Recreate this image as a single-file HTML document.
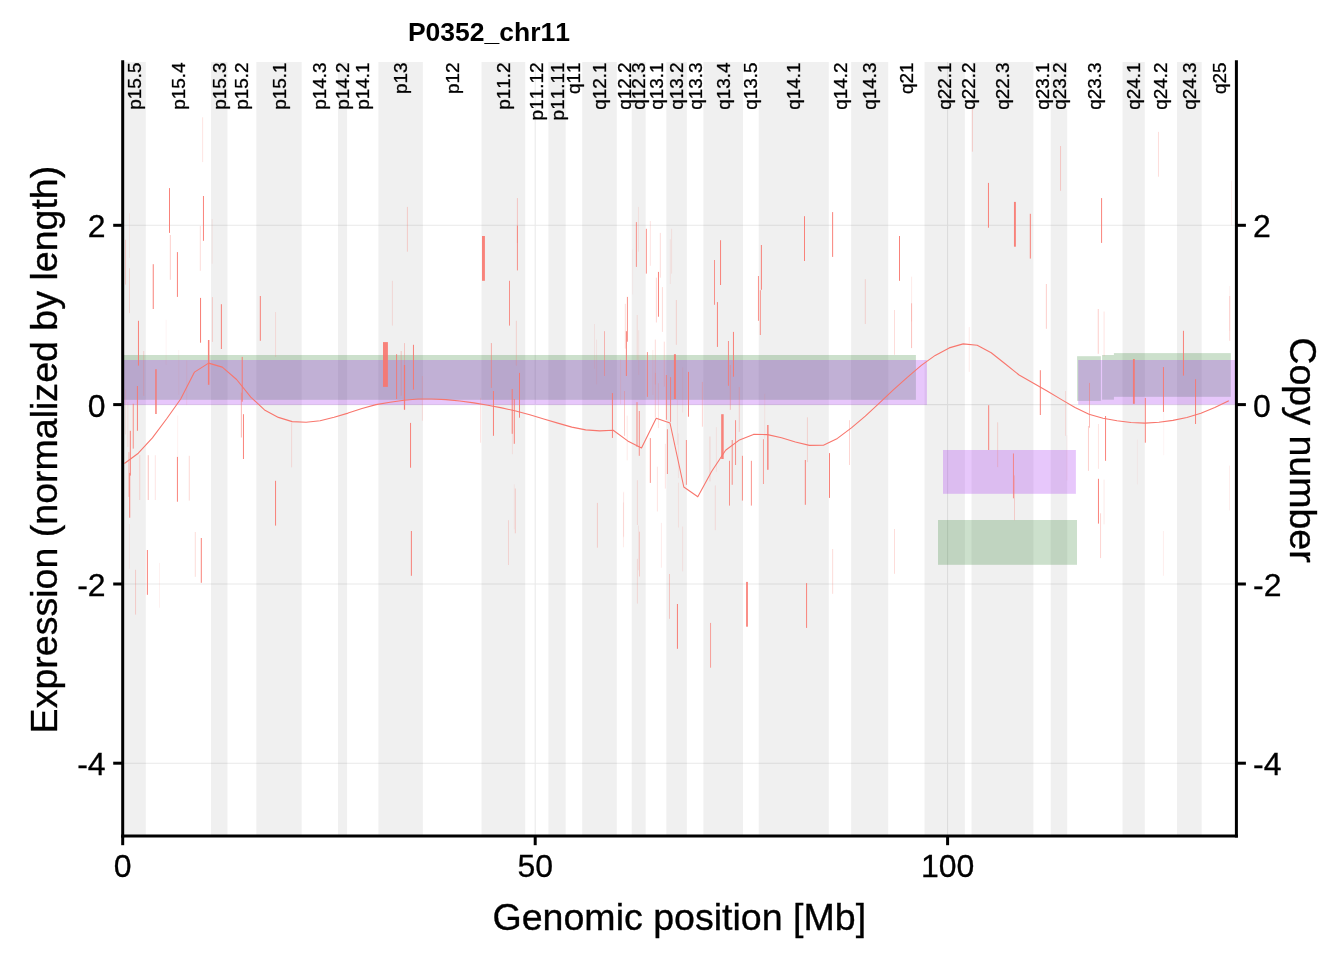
<!DOCTYPE html>
<html><head><meta charset="utf-8"><title>P0352_chr11</title>
<style>
html,body{margin:0;padding:0;background:#fff;}
body{width:1344px;height:960px;overflow:hidden;}
svg{display:block;font-family:"Liberation Sans",sans-serif;font-kerning:none;will-change:transform;}
.bl{font-size:18.97px;fill:#000;stroke:#000;stroke-width:0.3px;}
.tk{font-size:32px;fill:#000;stroke:#000;stroke-width:0.3px;}
.at{font-size:37.55px;fill:#000;stroke:#000;stroke-width:0.35px;}
</style></head><body>
<svg width="1344" height="960" viewBox="0 0 1344 960">
<rect width="1344" height="960" fill="#fff"/>

<g stroke="#e9e9e9" stroke-width="1.05">
<line x1="122.7" x2="1236.4" y1="225.3" y2="225.3"/>
<line x1="122.7" x2="1236.4" y1="404.6" y2="404.6"/>
<line x1="122.7" x2="1236.4" y1="584.0" y2="584.0"/>
<line x1="122.7" x2="1236.4" y1="763.2" y2="763.2"/>
<line x1="535.2" x2="535.2" y1="62.0" y2="835.9"/>
<line x1="947.6" x2="947.6" y1="62.0" y2="835.9"/>
</g>
<g fill="#000" fill-opacity="0.06">
<rect x="122.7" y="62.0" width="23.1" height="773.9"/>
<rect x="211.0" y="62.0" width="16.5" height="773.9"/>
<rect x="256.3" y="62.0" width="45.4" height="773.9"/>
<rect x="338.0" y="62.0" width="9.1" height="773.9"/>
<rect x="378.4" y="62.0" width="44.5" height="773.9"/>
<rect x="481.5" y="62.0" width="43.7" height="773.9"/>
<rect x="548.4" y="62.0" width="17.3" height="773.9"/>
<rect x="582.2" y="62.0" width="34.6" height="773.9"/>
<rect x="631.7" y="62.0" width="14.0" height="773.9"/>
<rect x="666.3" y="62.0" width="20.6" height="773.9"/>
<rect x="703.4" y="62.0" width="39.6" height="773.9"/>
<rect x="758.7" y="62.0" width="70.1" height="773.9"/>
<rect x="851.1" y="62.0" width="37.1" height="773.9"/>
<rect x="924.5" y="62.0" width="40.4" height="773.9"/>
<rect x="971.5" y="62.0" width="61.9" height="773.9"/>
<rect x="1050.7" y="62.0" width="16.5" height="773.9"/>
<rect x="1122.5" y="62.0" width="22.3" height="773.9"/>
<rect x="1177.0" y="62.0" width="24.7" height="773.9"/>
</g>
<rect x="123.2" y="355.0" width="792.7" height="44.8" fill="#006400" fill-opacity="0.20"/>
<rect x="1077.1" y="356.2" width="23.8" height="44.7" fill="#006400" fill-opacity="0.20"/>
<rect x="1102.1" y="355.0" width="11.8" height="44.7" fill="#006400" fill-opacity="0.20"/>
<rect x="1113.9" y="353.1" width="116.9" height="43.7" fill="#006400" fill-opacity="0.20"/>
<rect x="938.0" y="520.0" width="139.0" height="44.8" fill="#006400" fill-opacity="0.20"/>
<rect x="123.2" y="360.0" width="803.7" height="44.8" fill="#a020f0" fill-opacity="0.25"/>
<rect x="1078.2" y="360.0" width="158.2" height="44.6" fill="#a020f0" fill-opacity="0.25"/>
<rect x="943.0" y="450.0" width="132.9" height="43.8" fill="#a020f0" fill-opacity="0.25"/>
<g fill="#f8766d">
<rect x="125.04" y="239.8" width="1.00" height="44.8" fill-opacity="0.30"/>
<rect x="125.04" y="389.6" width="1.00" height="44.8" fill-opacity="0.15"/>
<rect x="127.33" y="402.1" width="1.00" height="44.8" fill-opacity="0.15"/>
<rect x="128.38" y="452.1" width="1.00" height="44.8" fill-opacity="0.45"/>
<rect x="128.90" y="524.0" width="1.00" height="44.8" fill-opacity="0.10"/>
<rect x="129.00" y="213.1" width="1.00" height="44.8" fill-opacity="0.10"/>
<rect x="129.00" y="268.3" width="1.00" height="44.8" fill-opacity="0.25"/>
<rect x="129.21" y="472.9" width="1.00" height="44.8" fill-opacity="0.90"/>
<rect x="129.83" y="430.8" width="1.00" height="44.8" fill-opacity="0.90"/>
<rect x="132.75" y="403.8" width="1.00" height="44.8" fill-opacity="0.78"/>
<rect x="135.04" y="569.8" width="1.00" height="44.8" fill-opacity="0.30"/>
<rect x="136.92" y="386.0" width="1.00" height="44.8" fill-opacity="0.90"/>
<rect x="137.96" y="320.8" width="1.00" height="44.8" fill-opacity="0.90"/>
<rect x="139.21" y="455.2" width="1.00" height="44.8" fill-opacity="0.25"/>
<rect x="143.17" y="351.0" width="1.00" height="44.8" fill-opacity="0.25"/>
<rect x="146.90" y="550.0" width="1.00" height="44.8" fill-opacity="0.90"/>
<rect x="147.75" y="455.2" width="1.00" height="44.8" fill-opacity="0.45"/>
<rect x="152.75" y="264.2" width="1.00" height="44.8" fill-opacity="0.90"/>
<rect x="154.83" y="455.2" width="1.00" height="44.8" fill-opacity="0.18"/>
<rect x="155.21" y="369.2" width="1.50" height="44.8" fill-opacity="0.90"/>
<rect x="159.00" y="562.9" width="1.00" height="44.8" fill-opacity="0.10"/>
<rect x="165.67" y="319.8" width="1.00" height="44.8" fill-opacity="0.08"/>
<rect x="169.00" y="188.1" width="1.00" height="44.8" fill-opacity="0.90"/>
<rect x="169.83" y="235.0" width="1.00" height="44.8" fill-opacity="0.35"/>
<rect x="176.92" y="252.1" width="1.00" height="44.8" fill-opacity="0.90"/>
<rect x="176.92" y="456.9" width="1.00" height="44.8" fill-opacity="0.90"/>
<rect x="177.12" y="415.6" width="1.00" height="44.8" fill-opacity="0.10"/>
<rect x="178.17" y="350.0" width="1.00" height="44.8" fill-opacity="0.08"/>
<rect x="186.08" y="360.4" width="1.00" height="44.8" fill-opacity="0.10"/>
<rect x="188.79" y="455.8" width="1.00" height="44.8" fill-opacity="0.28"/>
<rect x="194.80" y="532.0" width="1.00" height="44.8" fill-opacity="0.25"/>
<rect x="199.83" y="226.0" width="1.00" height="44.8" fill-opacity="0.25"/>
<rect x="200.04" y="297.9" width="1.00" height="44.8" fill-opacity="0.95"/>
<rect x="200.80" y="538.0" width="1.00" height="44.8" fill-opacity="0.90"/>
<rect x="202.12" y="117.3" width="1.00" height="44.8" fill-opacity="0.20"/>
<rect x="202.96" y="196.0" width="1.00" height="44.8" fill-opacity="0.90"/>
<rect x="207.92" y="340.0" width="1.50" height="44.8" fill-opacity="0.90"/>
<rect x="211.71" y="219.0" width="1.00" height="44.8" fill-opacity="0.12"/>
<rect x="211.92" y="297.1" width="1.00" height="44.8" fill-opacity="0.30"/>
<rect x="220.88" y="304.2" width="1.00" height="44.8" fill-opacity="0.90"/>
<rect x="240.88" y="392.7" width="1.00" height="44.8" fill-opacity="0.50"/>
<rect x="241.71" y="356.9" width="1.00" height="44.8" fill-opacity="0.90"/>
<rect x="242.96" y="414.2" width="1.00" height="44.8" fill-opacity="0.90"/>
<rect x="259.83" y="296.0" width="1.00" height="44.8" fill-opacity="0.90"/>
<rect x="275.04" y="312.1" width="1.00" height="44.8" fill-opacity="0.20"/>
<rect x="275.04" y="480.8" width="1.00" height="44.8" fill-opacity="0.90"/>
<rect x="291.08" y="422.5" width="1.00" height="44.8" fill-opacity="0.20"/>
<rect x="383.00" y="342.1" width="4.90" height="44.8" fill-opacity="0.90"/>
<rect x="391.92" y="280.8" width="1.00" height="44.8" fill-opacity="0.20"/>
<rect x="396.08" y="354.2" width="1.00" height="44.8" fill-opacity="0.84"/>
<rect x="400.67" y="351.0" width="1.00" height="44.8" fill-opacity="0.35"/>
<rect x="404.00" y="343.1" width="1.00" height="44.8" fill-opacity="0.35"/>
<rect x="403.90" y="365.0" width="1.20" height="44.8" fill-opacity="0.95"/>
<rect x="406.92" y="206.9" width="1.00" height="44.8" fill-opacity="0.30"/>
<rect x="410.04" y="422.9" width="1.00" height="44.8" fill-opacity="0.90"/>
<rect x="410.88" y="531.0" width="1.00" height="44.8" fill-opacity="0.90"/>
<rect x="412.96" y="344.8" width="1.00" height="44.8" fill-opacity="0.90"/>
<rect x="421.92" y="376.0" width="1.00" height="44.8" fill-opacity="0.20"/>
<rect x="480.04" y="397.9" width="1.00" height="44.8" fill-opacity="0.20"/>
<rect x="482.01" y="236.0" width="2.90" height="44.8" fill-opacity="0.90"/>
<rect x="490.88" y="343.1" width="1.00" height="44.8" fill-opacity="0.55"/>
<rect x="492.96" y="391.0" width="1.00" height="44.8" fill-opacity="0.90"/>
<rect x="507.96" y="520.2" width="1.00" height="44.8" fill-opacity="0.25"/>
<rect x="509.00" y="280.8" width="1.00" height="44.8" fill-opacity="0.78"/>
<rect x="511.71" y="389.0" width="1.00" height="44.8" fill-opacity="0.90"/>
<rect x="511.92" y="409.4" width="1.00" height="44.8" fill-opacity="0.15"/>
<rect x="513.79" y="399.0" width="1.00" height="44.8" fill-opacity="0.90"/>
<rect x="513.79" y="484.4" width="1.00" height="44.8" fill-opacity="0.10"/>
<rect x="514.83" y="488.5" width="1.00" height="44.8" fill-opacity="0.30"/>
<rect x="515.88" y="320.8" width="1.00" height="44.8" fill-opacity="0.25"/>
<rect x="516.92" y="198.1" width="1.00" height="44.8" fill-opacity="0.35"/>
<rect x="516.92" y="225.6" width="1.00" height="44.8" fill-opacity="0.78"/>
<rect x="519.00" y="372.9" width="1.00" height="44.8" fill-opacity="0.90"/>
<rect x="594.00" y="324.0" width="1.00" height="44.8" fill-opacity="0.12"/>
<rect x="596.08" y="339.6" width="1.00" height="44.8" fill-opacity="0.12"/>
<rect x="596.92" y="502.9" width="1.00" height="44.8" fill-opacity="0.30"/>
<rect x="604.00" y="331.2" width="1.00" height="44.8" fill-opacity="0.50"/>
<rect x="611.92" y="393.1" width="1.00" height="44.8" fill-opacity="0.90"/>
<rect x="620.04" y="359.4" width="1.00" height="44.8" fill-opacity="0.15"/>
<rect x="622.96" y="492.5" width="1.00" height="44.8" fill-opacity="0.08"/>
<rect x="622.96" y="502.5" width="1.00" height="44.8" fill-opacity="0.15"/>
<rect x="623.17" y="491.7" width="1.00" height="44.8" fill-opacity="0.10"/>
<rect x="624.00" y="391.0" width="1.00" height="44.8" fill-opacity="0.35"/>
<rect x="624.83" y="303.8" width="1.00" height="44.8" fill-opacity="0.25"/>
<rect x="625.88" y="331.2" width="1.00" height="44.8" fill-opacity="0.90"/>
<rect x="626.71" y="415.6" width="1.00" height="44.8" fill-opacity="0.15"/>
<rect x="626.92" y="296.9" width="1.00" height="44.8" fill-opacity="0.78"/>
<rect x="632.12" y="249.6" width="1.00" height="44.8" fill-opacity="0.08"/>
<rect x="635.88" y="222.1" width="1.00" height="44.8" fill-opacity="0.78"/>
<rect x="636.50" y="402.1" width="1.00" height="44.8" fill-opacity="0.84"/>
<rect x="636.71" y="315.0" width="1.00" height="44.8" fill-opacity="0.20"/>
<rect x="636.92" y="480.2" width="1.00" height="44.8" fill-opacity="0.20"/>
<rect x="636.92" y="558.8" width="1.00" height="44.8" fill-opacity="0.20"/>
<rect x="637.96" y="206.9" width="1.00" height="44.8" fill-opacity="0.15"/>
<rect x="637.96" y="525.4" width="1.00" height="44.8" fill-opacity="0.12"/>
<rect x="638.17" y="330.2" width="1.00" height="44.8" fill-opacity="0.12"/>
<rect x="638.79" y="411.0" width="1.00" height="44.8" fill-opacity="0.78"/>
<rect x="639.00" y="531.7" width="1.00" height="44.8" fill-opacity="0.30"/>
<rect x="645.88" y="228.8" width="1.00" height="44.8" fill-opacity="0.78"/>
<rect x="646.92" y="352.1" width="1.00" height="44.8" fill-opacity="0.78"/>
<rect x="649.83" y="221.0" width="1.00" height="44.8" fill-opacity="0.20"/>
<rect x="649.83" y="438.1" width="1.00" height="44.8" fill-opacity="0.78"/>
<rect x="652.33" y="350.0" width="1.00" height="44.8" fill-opacity="0.15"/>
<rect x="654.83" y="339.6" width="1.00" height="44.8" fill-opacity="0.25"/>
<rect x="654.83" y="372.9" width="1.00" height="44.8" fill-opacity="0.30"/>
<rect x="655.88" y="277.7" width="1.00" height="44.8" fill-opacity="0.30"/>
<rect x="656.92" y="466.7" width="1.00" height="44.8" fill-opacity="0.20"/>
<rect x="657.96" y="271.9" width="1.00" height="44.8" fill-opacity="0.90"/>
<rect x="657.96" y="383.3" width="1.00" height="44.8" fill-opacity="0.20"/>
<rect x="659.83" y="232.9" width="1.00" height="44.8" fill-opacity="0.25"/>
<rect x="660.88" y="522.9" width="1.00" height="44.8" fill-opacity="0.15"/>
<rect x="661.92" y="287.1" width="1.00" height="44.8" fill-opacity="0.25"/>
<rect x="663.79" y="341.7" width="1.00" height="44.8" fill-opacity="0.25"/>
<rect x="664.83" y="443.8" width="1.00" height="44.8" fill-opacity="0.20"/>
<rect x="665.88" y="375.0" width="1.00" height="44.8" fill-opacity="0.78"/>
<rect x="666.92" y="429.2" width="1.00" height="44.8" fill-opacity="0.78"/>
<rect x="669.00" y="574.0" width="1.00" height="44.8" fill-opacity="0.35"/>
<rect x="669.83" y="239.2" width="1.00" height="44.8" fill-opacity="0.12"/>
<rect x="670.04" y="377.1" width="1.00" height="44.8" fill-opacity="0.78"/>
<rect x="671.08" y="228.8" width="1.00" height="44.8" fill-opacity="0.15"/>
<rect x="673.92" y="354.2" width="2.00" height="44.8" fill-opacity="0.90"/>
<rect x="675.88" y="300.0" width="1.00" height="44.8" fill-opacity="0.25"/>
<rect x="676.92" y="400.0" width="1.00" height="44.8" fill-opacity="0.12"/>
<rect x="676.92" y="604.0" width="1.00" height="44.8" fill-opacity="0.95"/>
<rect x="677.96" y="433.3" width="1.00" height="44.8" fill-opacity="0.12"/>
<rect x="677.96" y="482.7" width="1.00" height="44.8" fill-opacity="0.15"/>
<rect x="682.12" y="367.7" width="1.00" height="44.8" fill-opacity="0.12"/>
<rect x="682.12" y="526.5" width="1.00" height="44.8" fill-opacity="0.15"/>
<rect x="685.88" y="440.0" width="1.00" height="44.8" fill-opacity="0.78"/>
<rect x="687.96" y="371.9" width="1.00" height="44.8" fill-opacity="0.90"/>
<rect x="701.92" y="381.9" width="1.00" height="44.8" fill-opacity="0.30"/>
<rect x="709.42" y="436.5" width="1.00" height="44.8" fill-opacity="0.25"/>
<rect x="710.04" y="622.9" width="1.00" height="44.8" fill-opacity="0.67"/>
<rect x="714.00" y="260.0" width="1.00" height="44.8" fill-opacity="0.78"/>
<rect x="714.83" y="485.4" width="1.00" height="44.8" fill-opacity="0.18"/>
<rect x="715.88" y="427.1" width="1.00" height="44.8" fill-opacity="0.12"/>
<rect x="716.92" y="302.1" width="1.00" height="44.8" fill-opacity="0.90"/>
<rect x="720.04" y="240.2" width="1.00" height="44.8" fill-opacity="0.90"/>
<rect x="721.17" y="414.2" width="2.50" height="44.8" fill-opacity="0.90"/>
<rect x="727.96" y="341.0" width="1.00" height="44.8" fill-opacity="0.78"/>
<rect x="729.00" y="460.8" width="1.00" height="44.8" fill-opacity="0.78"/>
<rect x="729.83" y="365.0" width="1.00" height="44.8" fill-opacity="0.40"/>
<rect x="731.71" y="440.0" width="1.00" height="44.8" fill-opacity="0.78"/>
<rect x="732.96" y="331.9" width="1.00" height="44.8" fill-opacity="0.90"/>
<rect x="735.04" y="420.2" width="1.00" height="44.8" fill-opacity="0.78"/>
<rect x="738.79" y="387.1" width="1.00" height="44.8" fill-opacity="0.30"/>
<rect x="741.92" y="455.8" width="1.00" height="44.8" fill-opacity="0.78"/>
<rect x="746.10" y="581.9" width="1.80" height="44.8" fill-opacity="0.90"/>
<rect x="750.88" y="460.8" width="1.00" height="44.8" fill-opacity="0.78"/>
<rect x="757.96" y="276.0" width="1.00" height="44.8" fill-opacity="0.78"/>
<rect x="759.83" y="290.2" width="1.00" height="44.8" fill-opacity="0.78"/>
<rect x="760.88" y="245.0" width="1.00" height="44.8" fill-opacity="0.90"/>
<rect x="762.96" y="439.2" width="1.00" height="44.8" fill-opacity="0.67"/>
<rect x="764.21" y="393.8" width="1.00" height="44.8" fill-opacity="0.12"/>
<rect x="767.08" y="425.0" width="1.50" height="44.8" fill-opacity="0.85"/>
<rect x="804.00" y="216.2" width="1.00" height="44.8" fill-opacity="0.90"/>
<rect x="804.83" y="460.0" width="1.00" height="44.8" fill-opacity="0.90"/>
<rect x="806.08" y="583.1" width="1.00" height="44.8" fill-opacity="0.90"/>
<rect x="806.92" y="417.3" width="1.00" height="44.8" fill-opacity="0.25"/>
<rect x="829.00" y="453.1" width="1.00" height="44.8" fill-opacity="0.90"/>
<rect x="832.12" y="212.1" width="1.00" height="44.8" fill-opacity="0.90"/>
<rect x="832.12" y="549.0" width="1.00" height="44.8" fill-opacity="0.25"/>
<rect x="849.00" y="420.2" width="1.00" height="44.8" fill-opacity="0.30"/>
<rect x="864.83" y="279.2" width="1.00" height="44.8" fill-opacity="0.25"/>
<rect x="894.00" y="310.0" width="1.00" height="44.8" fill-opacity="0.25"/>
<rect x="894.00" y="529.0" width="1.00" height="44.8" fill-opacity="0.25"/>
<rect x="899.00" y="236.0" width="1.00" height="44.8" fill-opacity="0.90"/>
<rect x="911.08" y="276.7" width="1.00" height="44.8" fill-opacity="0.15"/>
<rect x="911.08" y="303.3" width="1.00" height="44.8" fill-opacity="0.45"/>
<rect x="968.79" y="327.1" width="1.00" height="44.8" fill-opacity="0.15"/>
<rect x="971.92" y="106.9" width="1.00" height="44.8" fill-opacity="0.30"/>
<rect x="987.96" y="182.9" width="1.00" height="44.8" fill-opacity="0.90"/>
<rect x="988.17" y="405.2" width="1.00" height="44.8" fill-opacity="0.90"/>
<rect x="997.12" y="422.3" width="1.00" height="44.8" fill-opacity="0.25"/>
<rect x="1012.96" y="453.5" width="1.00" height="44.8" fill-opacity="0.78"/>
<rect x="1014.00" y="475.4" width="1.00" height="44.8" fill-opacity="0.30"/>
<rect x="1013.97" y="201.9" width="1.90" height="44.8" fill-opacity="0.90"/>
<rect x="1029.83" y="213.8" width="1.00" height="44.8" fill-opacity="0.90"/>
<rect x="1039.83" y="370.2" width="1.00" height="44.8" fill-opacity="0.90"/>
<rect x="1045.88" y="284.0" width="1.00" height="44.8" fill-opacity="0.35"/>
<rect x="1060.04" y="146.0" width="1.00" height="44.8" fill-opacity="0.35"/>
<rect x="1065.04" y="391.0" width="1.00" height="44.8" fill-opacity="0.20"/>
<rect x="1066.50" y="435.4" width="1.00" height="44.8" fill-opacity="0.08"/>
<rect x="1087.96" y="426.0" width="1.00" height="44.8" fill-opacity="0.35"/>
<rect x="1089.00" y="382.9" width="1.00" height="44.8" fill-opacity="0.50"/>
<rect x="1097.75" y="309.0" width="1.00" height="44.8" fill-opacity="0.35"/>
<rect x="1097.96" y="424.0" width="1.00" height="44.8" fill-opacity="0.20"/>
<rect x="1097.96" y="478.8" width="1.00" height="44.8" fill-opacity="0.90"/>
<rect x="1100.04" y="513.3" width="1.00" height="44.8" fill-opacity="0.30"/>
<rect x="1101.08" y="198.1" width="1.00" height="44.8" fill-opacity="0.90"/>
<rect x="1103.58" y="311.5" width="1.00" height="44.8" fill-opacity="0.20"/>
<rect x="1103.58" y="479.6" width="1.00" height="44.8" fill-opacity="0.15"/>
<rect x="1105.04" y="416.0" width="1.00" height="44.8" fill-opacity="0.90"/>
<rect x="1132.97" y="359.0" width="1.80" height="44.8" fill-opacity="0.90"/>
<rect x="1136.92" y="439.6" width="1.00" height="44.8" fill-opacity="0.08"/>
<rect x="1144.83" y="397.9" width="1.00" height="44.8" fill-opacity="0.90"/>
<rect x="1157.96" y="131.9" width="1.00" height="44.8" fill-opacity="0.25"/>
<rect x="1162.96" y="367.1" width="1.00" height="44.8" fill-opacity="0.90"/>
<rect x="1162.96" y="531.0" width="1.00" height="44.8" fill-opacity="0.12"/>
<rect x="1163.17" y="410.4" width="1.00" height="44.8" fill-opacity="0.08"/>
<rect x="1182.96" y="330.8" width="1.00" height="44.8" fill-opacity="0.90"/>
<rect x="1195.04" y="379.2" width="1.00" height="44.8" fill-opacity="0.90"/>
<rect x="1229.00" y="465.6" width="1.00" height="44.8" fill-opacity="0.12"/>
<rect x="1229.21" y="286.0" width="1.00" height="44.8" fill-opacity="0.10"/>
<rect x="1229.21" y="296.0" width="1.00" height="44.8" fill-opacity="0.30"/>
<rect x="1231.08" y="180.8" width="1.00" height="44.8" fill-opacity="0.12"/>
</g>
<polyline fill="none" stroke="#f8766d" stroke-width="1.1" stroke-linejoin="round" points="124.4,463.5 138.3,453.2 152.4,437.8 166.5,419.0 180.7,399.0 194.5,372.1 208.6,363.1 222.3,367.1 236.6,379.5 250.8,397.1 264.5,409.9 278.4,417.4 292.2,421.6 306.1,422.3 320.1,420.8 334.1,417.3 348.1,413.1 362.0,408.5 376.0,404.6 390.0,402.3 404.0,400.2 418.0,399.0 431.9,399.0 445.9,399.6 459.9,401.0 473.9,402.9 487.9,405.2 501.8,407.9 515.8,411.0 529.8,414.8 543.8,419.0 557.8,423.1 571.8,427.1 585.7,429.9 599.7,430.9 613.2,430.2 627.7,440.9 641.5,448.0 656.2,418.3 670.0,423.0 683.8,487.0 697.8,496.8 711.6,471.5 725.6,450.3 739.5,439.9 753.5,434.4 767.5,434.6 781.5,437.7 795.4,442.0 809.4,445.4 823.4,445.2 837.4,438.4 851.4,427.9 865.3,416.1 879.3,403.2 893.3,389.8 907.3,377.3 921.3,365.4 935.2,355.4 949.2,347.9 963.2,343.9 977.2,345.3 991.2,352.8 1005.1,363.8 1019.1,375.0 1033.1,383.1 1047.1,391.0 1061.1,399.4 1075.0,407.5 1089.0,414.2 1103.0,418.3 1117.0,420.8 1131.0,422.5 1144.9,423.1 1158.9,422.3 1172.9,420.4 1186.9,417.5 1200.9,413.3 1214.8,407.5 1228.8,400.8"/>
<g class="bl" text-anchor="end">
<text transform="translate(134.2,62.4) rotate(-90)" dy="0.345em">p15.5</text>
<text transform="translate(178.4,62.4) rotate(-90)" dy="0.345em">p15.4</text>
<text transform="translate(219.2,62.4) rotate(-90)" dy="0.345em">p15.3</text>
<text transform="translate(241.9,62.4) rotate(-90)" dy="0.345em">p15.2</text>
<text transform="translate(279.0,62.4) rotate(-90)" dy="0.345em">p15.1</text>
<text transform="translate(319.9,62.4) rotate(-90)" dy="0.345em">p14.3</text>
<text transform="translate(342.5,62.4) rotate(-90)" dy="0.345em">p14.2</text>
<text transform="translate(362.8,62.4) rotate(-90)" dy="0.345em">p14.1</text>
<text transform="translate(400.7,62.4) rotate(-90)" dy="0.345em">p13</text>
<text transform="translate(452.3,62.4) rotate(-90)" dy="0.345em">p12</text>
<text transform="translate(503.4,62.4) rotate(-90)" dy="0.345em">p11.2</text>
<text transform="translate(536.8,62.4) rotate(-90)" dy="0.345em">p11.12</text>
<text transform="translate(557.0,62.4) rotate(-90)" dy="0.345em">p11.11</text>
<text transform="translate(573.9,62.4) rotate(-90)" dy="0.345em">q11</text>
<text transform="translate(599.5,62.4) rotate(-90)" dy="0.345em">q12.1</text>
<text transform="translate(624.3,62.4) rotate(-90)" dy="0.345em">q12.2</text>
<text transform="translate(638.7,62.4) rotate(-90)" dy="0.345em">q12.3</text>
<text transform="translate(656.0,62.4) rotate(-90)" dy="0.345em">q13.1</text>
<text transform="translate(676.6,62.4) rotate(-90)" dy="0.345em">q13.2</text>
<text transform="translate(695.2,62.4) rotate(-90)" dy="0.345em">q13.3</text>
<text transform="translate(723.2,62.4) rotate(-90)" dy="0.345em">q13.4</text>
<text transform="translate(750.9,62.4) rotate(-90)" dy="0.345em">q13.5</text>
<text transform="translate(793.8,62.4) rotate(-90)" dy="0.345em">q14.1</text>
<text transform="translate(840.0,62.4) rotate(-90)" dy="0.345em">q14.2</text>
<text transform="translate(869.7,62.4) rotate(-90)" dy="0.345em">q14.3</text>
<text transform="translate(906.4,62.4) rotate(-90)" dy="0.345em">q21</text>
<text transform="translate(944.7,62.4) rotate(-90)" dy="0.345em">q22.1</text>
<text transform="translate(968.2,62.4) rotate(-90)" dy="0.345em">q22.2</text>
<text transform="translate(1002.5,62.4) rotate(-90)" dy="0.345em">q22.3</text>
<text transform="translate(1042.1,62.4) rotate(-90)" dy="0.345em">q23.1</text>
<text transform="translate(1059.0,62.4) rotate(-90)" dy="0.345em">q23.2</text>
<text transform="translate(1094.9,62.4) rotate(-90)" dy="0.345em">q23.3</text>
<text transform="translate(1133.6,62.4) rotate(-90)" dy="0.345em">q24.1</text>
<text transform="translate(1160.9,62.4) rotate(-90)" dy="0.345em">q24.2</text>
<text transform="translate(1189.3,62.4) rotate(-90)" dy="0.345em">q24.3</text>
<text transform="translate(1219.0,62.4) rotate(-90)" dy="0.345em">q25</text>
</g>
<g stroke="#000" stroke-width="3" fill="none">
<line x1="122.7" x2="122.7" y1="60.3" y2="837.4"/>
<line x1="1236.4" x2="1236.4" y1="60.3" y2="837.4"/>
<line x1="121.2" x2="1237.9" y1="835.9" y2="835.9"/>
<line x1="113.2" x2="122.7" y1="225.3" y2="225.3"/>
<line x1="1236.4" x2="1245.9" y1="225.3" y2="225.3"/>
<line x1="113.2" x2="122.7" y1="404.6" y2="404.6"/>
<line x1="1236.4" x2="1245.9" y1="404.6" y2="404.6"/>
<line x1="113.2" x2="122.7" y1="584.0" y2="584.0"/>
<line x1="1236.4" x2="1245.9" y1="584.0" y2="584.0"/>
<line x1="113.2" x2="122.7" y1="763.2" y2="763.2"/>
<line x1="1236.4" x2="1245.9" y1="763.2" y2="763.2"/>
<line x1="122.7" x2="122.7" y1="835.9" y2="845.2"/>
<line x1="535.2" x2="535.2" y1="835.9" y2="845.2"/>
<line x1="947.6" x2="947.6" y1="835.9" y2="845.2"/>
</g>
<g class="tk">
<text x="105.6" y="237.2" text-anchor="end">2</text>
<text x="1253.0" y="237.2" text-anchor="start">2</text>
<text x="105.6" y="416.5" text-anchor="end">0</text>
<text x="1253.0" y="416.5" text-anchor="start">0</text>
<text x="105.6" y="595.9" text-anchor="end">-2</text>
<text x="1253.0" y="595.9" text-anchor="start">-2</text>
<text x="105.6" y="775.1" text-anchor="end">-4</text>
<text x="1253.0" y="775.1" text-anchor="start">-4</text>
<text x="122.7" y="877.3" text-anchor="middle">0</text>
<text x="535.2" y="877.3" text-anchor="middle">50</text>
<text x="947.6" y="877.3" text-anchor="middle">100</text>
</g>
<text x="407.9" y="41.2" font-size="26.5" font-weight="bold" fill="#000">P0352_chr11</text>
<text class="at" x="679.3" y="930.0" text-anchor="middle">Genomic position [Mb]</text>
<text class="at" transform="translate(57.3,449.6) rotate(-90)" text-anchor="middle">Expression (normalized by length)</text>
<text class="at" transform="translate(1290.3,450) rotate(90)" text-anchor="middle">Copy number</text>
</svg></body></html>
